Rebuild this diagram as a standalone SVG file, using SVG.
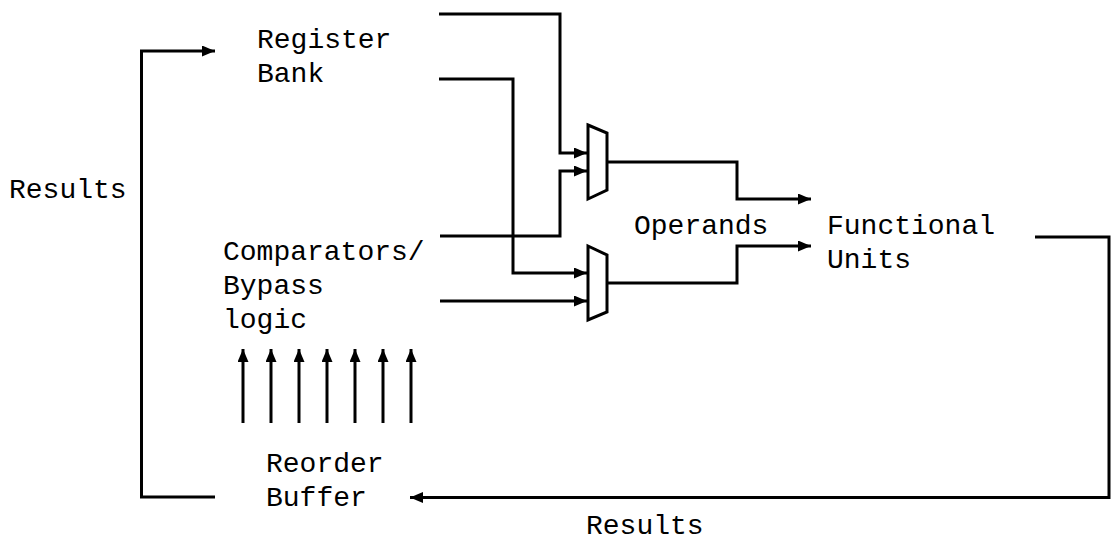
<svg xmlns="http://www.w3.org/2000/svg" width="1111" height="542" viewBox="0 0 1111 542">
<defs>
<marker id="arr" markerUnits="userSpaceOnUse" markerWidth="14" markerHeight="12" refX="13" refY="5.5" orient="auto">
<path d="M0,0 L13,5.5 L0,11 Z" fill="#000"/>
</marker>
<style>
.t{font-family:"Liberation Mono","Courier New",monospace;font-size:28px;fill:#000}
.c{fill:none;stroke:#000;stroke-width:3}
.a{marker-end:url(#arr)}
.mux{fill:#fff;stroke:#000;stroke-width:3;stroke-linejoin:miter}
</style>
</defs>
<rect width="1111" height="542" fill="#fff"/>
<g id="connectors">
<path class="c a" d="M215,497 H141.5 V51 H215"/>
<path class="c a" d="M1035,237 H1109 V497.5 H410"/>
<path class="c a" d="M439,14 H560 V153 H587"/>
<path class="c a" d="M439,79 H513 V273 H587"/>
<path class="c a" d="M440,236 H560 V171 H587"/>
<path class="c a" d="M440,301 H587"/>
<path class="c a" d="M607,162 H737 V199 H811"/>
<path class="c a" d="M607,283 H737 V246 H811"/>
<path class="c a" d="M243,423 V349"/>
<path class="c a" d="M271,423 V349"/>
<path class="c a" d="M299,423 V349"/>
<path class="c a" d="M327,423 V349"/>
<path class="c a" d="M355,423 V349"/>
<path class="c a" d="M383,423 V349"/>
<path class="c a" d="M411,423 V349"/>
</g>
<g id="mux1"><polygon class="mux" points="588,125 607,133 607,190 588,199"/></g>
<g id="mux2"><polygon class="mux" points="588,246 607,255 607,312 588,320"/></g>
<g id="register-bank"><text class="t" x="257" y="48">Register</text><text class="t" x="257" y="82">Bank</text></g>
<g id="comparators"><text class="t" x="223" y="260">Comparators/</text><text class="t" x="223" y="294">Bypass</text><text class="t" x="223" y="328">logic</text></g>
<g id="functional-units"><text class="t" x="827" y="234">Functional</text><text class="t" x="827" y="268">Units</text></g>
<g id="reorder-buffer"><text class="t" x="266" y="472">Reorder</text><text class="t" x="266" y="506">Buffer</text></g>
<g id="labels">
<text class="t" x="9" y="198">Results</text>
<text class="t" x="634" y="234">Operands</text>
<text class="t" x="586" y="534">Results</text>
</g>
</svg>
